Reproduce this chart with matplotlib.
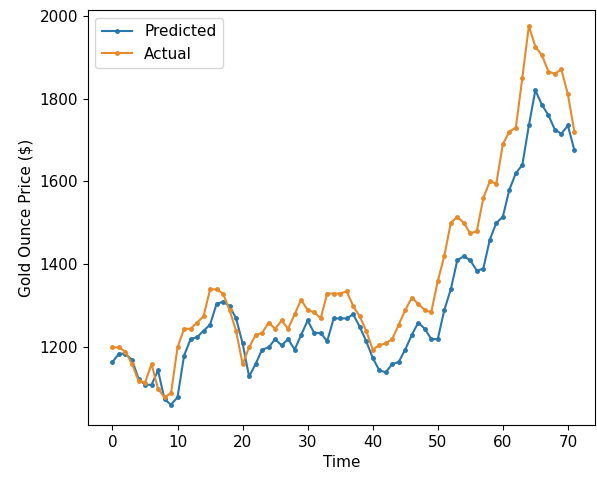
import matplotlib.pyplot as plt
import numpy as np

# precos
predicted = [1165, 1185, 1185, 1170, 1125, 1110, 1110, 1145, 1075, 1062,
             1080, 1180, 1220, 1225, 1240, 1255, 1305, 1310, 1300, 1270,
             1210, 1130, 1160, 1195, 1200, 1220, 1205, 1220, 1195, 1230,
             1265, 1235, 1235, 1215, 1270, 1270, 1270, 1280, 1250, 1215,
             1175, 1145, 1140, 1160, 1165, 1195, 1230, 1260, 1245, 1220,
             1220, 1290, 1340, 1410, 1420, 1410, 1385, 1390, 1460, 1500,
             1515, 1580, 1620, 1640, 1735, 1820, 1785, 1760, 1725, 1715,
             1735, 1675]
actual = [1200, 1200, 1190, 1160, 1120, 1115, 1160, 1100, 1080, 1090,
          1200, 1245, 1245, 1260, 1275, 1340, 1340, 1330, 1290, 1240,
          1160, 1200, 1230, 1235, 1260, 1245, 1265, 1245, 1280, 1315,
          1290, 1285, 1270, 1330, 1330, 1330, 1335, 1300, 1275, 1240,
          1195, 1205, 1210, 1220, 1255, 1290, 1320, 1305, 1290, 1285,
          1360, 1420, 1500, 1515, 1500, 1475, 1480, 1560, 1600, 1595,
          1690, 1720, 1730, 1850, 1975, 1925, 1905, 1865, 1860, 1870,
          1810, 1720]
time = np.arange(len(actual))

plt.rcParams['font.size'] = 11

fig = plt.figure(figsize=(5.97, 4.83), dpi=100)
ax = fig.add_axes([0.147, 0.12, 0.85, 0.859])

ax.plot(time, predicted, marker='.', markersize=5, color='#2a78ab', label='Predicted')
ax.plot(time, actual, marker='.', markersize=5, color='#e68a2a', label='Actual')

ax.set_xlim(-3.8, 74.2)
ax.set_ylim(1013, 2013)
ax.set_xticks(range(0, 80, 10))
ax.set_yticks([1200, 1400, 1600, 1800, 2000])
ax.set_xlabel('Time')
ax.set_ylabel('Gold Ounce Price ($)')
ax.legend(loc='upper left')

plt.savefig('out.png', dpi=100)
